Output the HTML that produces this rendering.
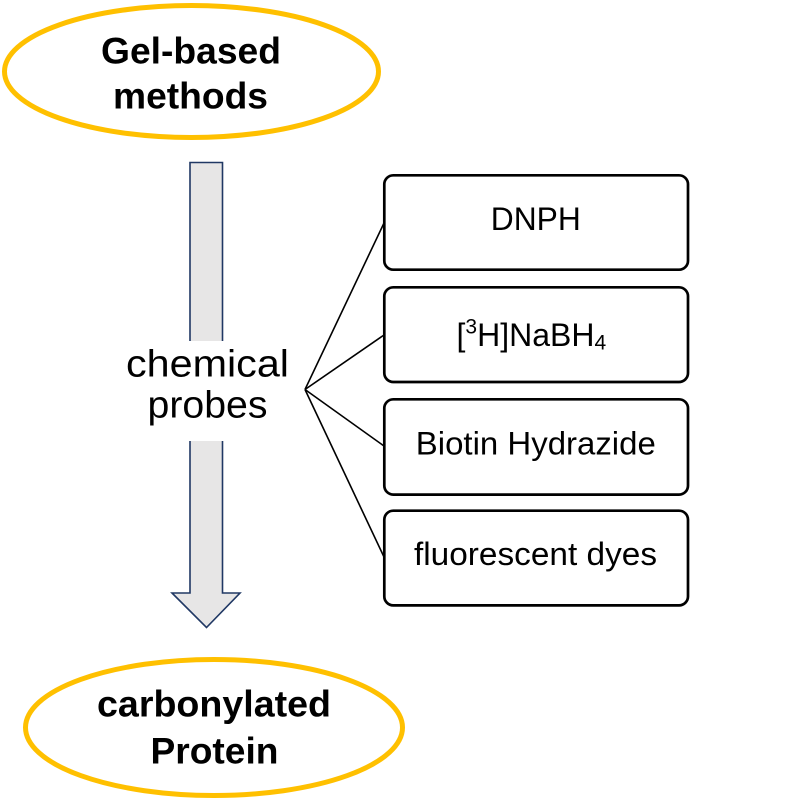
<!DOCTYPE html>
<html>
<head>
<meta charset="utf-8">
<style>
  html, body { margin: 0; padding: 0; background: #ffffff; }
  svg { display: block; }
  text { font-family: "Liberation Sans", Arial, sans-serif; fill: #000; }
</style>
</head>
<body>
<svg width="797" height="800" viewBox="0 0 797 800" xmlns="http://www.w3.org/2000/svg">
  <rect x="0" y="0" width="797" height="800" fill="#ffffff"/>

  <!-- Top ellipse -->
  <ellipse cx="191.5" cy="71.5" rx="187" ry="66" fill="#ffffff" stroke="#FFC000" stroke-width="5"/>
  <text x="191" y="63.3" font-size="37" font-weight="bold" text-anchor="middle" textLength="180" lengthAdjust="spacingAndGlyphs">Gel-based</text>
  <text x="190.5" y="108.3" font-size="37" font-weight="bold" text-anchor="middle" textLength="155" lengthAdjust="spacingAndGlyphs">methods</text>

  <!-- Big down arrow -->
  <polygon points="190,162.5 222.5,162.5 222.5,593 240,593 206.5,627.5 172,593 190,593"
           fill="#E7E6E6" stroke="#203864" stroke-width="1.6" stroke-linejoin="miter"/>

  <!-- white text box behind chemical probes -->
  <rect x="120" y="341" width="182" height="100" fill="#ffffff"/>
  <text x="207.5" y="376.7" font-size="38" text-anchor="middle" textLength="163" lengthAdjust="spacingAndGlyphs">chemical</text>
  <text x="207.5" y="417.3" font-size="38" text-anchor="middle" textLength="120" lengthAdjust="spacingAndGlyphs">probes</text>

  <!-- fan lines -->
  <g stroke="#000" stroke-width="1.6" fill="none">
    <line x1="305" y1="389.5" x2="384" y2="223"/>
    <line x1="305" y1="389.5" x2="384" y2="335"/>
    <line x1="305" y1="389.5" x2="384" y2="446"/>
    <line x1="305" y1="389.5" x2="384" y2="557"/>
  </g>

  <!-- boxes -->
  <g fill="#ffffff" stroke="#000" stroke-width="2.7">
    <rect x="384.3" y="175.3" width="303.7" height="94.4" rx="9" ry="9"/>
    <rect x="384.3" y="287.3" width="303.7" height="94.7" rx="9" ry="9"/>
    <rect x="384.3" y="399.3" width="303.7" height="95.3" rx="9" ry="9"/>
    <rect x="384.3" y="510.7" width="303.7" height="94.7" rx="9" ry="9"/>
  </g>

  <text x="535.8" y="230" font-size="32" text-anchor="middle" textLength="90" lengthAdjust="spacingAndGlyphs">DNPH</text>

  <text x="456.5" y="346" font-size="32">[<tspan font-size="21" dy="-12.7">3</tspan><tspan dy="12.7">H]NaBH</tspan><tspan font-size="21" dy="3.3">4</tspan></text>

  <text x="535.8" y="454.3" font-size="32" text-anchor="middle" textLength="240" lengthAdjust="spacingAndGlyphs">Biotin Hydrazide</text>

  <text x="535.5" y="565" font-size="32" text-anchor="middle" textLength="243" lengthAdjust="spacingAndGlyphs">fluorescent dyes</text>

  <!-- Bottom ellipse -->
  <ellipse cx="214" cy="727.5" rx="188.5" ry="68" fill="#ffffff" stroke="#FFC000" stroke-width="5"/>
  <text x="214" y="716.7" font-size="37" font-weight="bold" text-anchor="middle" textLength="234" lengthAdjust="spacingAndGlyphs">carbonylated</text>
  <text x="214.5" y="763.3" font-size="37" font-weight="bold" text-anchor="middle" textLength="128" lengthAdjust="spacingAndGlyphs">Protein</text>
</svg>
</body>
</html>
